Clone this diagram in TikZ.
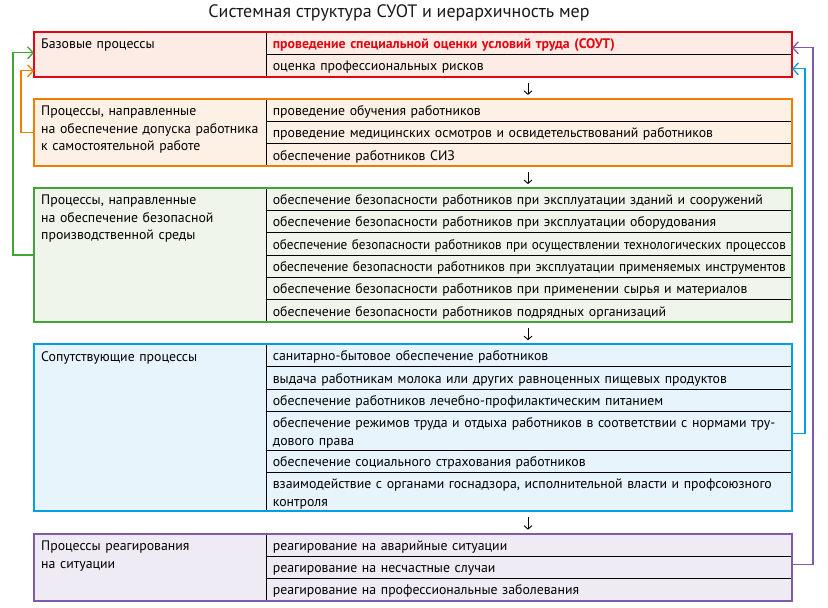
\documentclass[tikz,border=0pt]{standalone}
\usepackage{fontspec}
\usepackage{graphicx}
\setmainfont{PT Sans}
\usetikzlibrary{positioning}
\usetikzlibrary{arrows.meta}

\definecolor{soutred}{RGB}{227,6,19}
\definecolor{soutorange}{RGB}{239,125,0}
\definecolor{soutgreen}{RGB}{67,163,55}
\definecolor{soutblue}{RGB}{0,159,227}
\definecolor{soutpurple}{RGB}{125,91,166}
\definecolor{fillred}{RGB}{252,236,229}
\definecolor{fillorange}{RGB}{253,241,229}
\definecolor{fillgreen}{RGB}{239,245,234}
\definecolor{fillblue}{RGB}{232,244,252}
\definecolor{fillpurple}{RGB}{239,235,245}

% squeeze a too long line into the column
\newcommand{\fitline}[1]{\resizebox{513pt}{\height}{#1}}

\begin{document}
\begin{tikzpicture}[x=1pt, y=-1pt, font=\fontsize{13.8}{17.5}\selectfont]
    \tikzstyle{group}=[rectangle, minimum width=758pt, inner sep=0pt, outer sep=0pt]
    \tikzstyle{head}=[text width=224pt, align=left, inner xsep=7pt, inner ysep=0pt, anchor=base west]
    \tikzstyle{item}=[draw=black, line width=0.6pt, rectangle, minimum height=22.3pt,
      text width=513pt, text height=11.5pt, text depth=0.8pt,
      inner xsep=6.15pt, inner ysep=2pt, outer sep=0pt, align=left, anchor=north west]
    \tikzstyle{tall}=[minimum height=39pt, text depth=17.5pt]
    \tikzstyle{frame}=[line width=2pt]
    \tikzstyle{back}=[-{Straight Barb[length=5.5pt,width=12pt]}, line width=1.3pt]
    \tikzstyle{down}=[-{Straight Barb[length=3.5pt,width=8pt]}, line width=0.9pt]
    \useasboundingbox (0,0) rectangle (828,608);

    \node[anchor=base, font=\fontsize{18}{22}\selectfont, text=black!90] (title) at (399,17)
      {Системная структура СУОТ и иерархичность мер};

    % groups
    \node[group, fill=fillred, minimum height=44.6pt, anchor=north west] (base) at (34,32) {};
    \node[group, fill=fillorange, minimum height=66.9pt, below=22.3pt of base] (access) {};
    \node[group, fill=fillgreen, minimum height=133.8pt, below=22.3pt of access] (safety) {};
    \node[group, fill=fillblue, minimum height=167.2pt, below=22.3pt of safety] (accomp) {};
    \node[group, fill=fillpurple, minimum height=66.9pt, below=22.3pt of accomp] (react) {};

    \node[head] (baseT) at ([yshift=-16.5pt]base.north west) {Базовые процессы};
    \node[head] (accessT) at ([yshift=-16.8pt]access.north west)
      {Процессы, направленные\\на обеспечение допуска работника\\к самостоятельной работе};
    \node[head] (safetyT) at ([yshift=-16.8pt]safety.north west)
      {Процессы, направленные\\на обеспечение безопасной\\производственной среды};
    \node[head] (accompT) at ([yshift=-17pt]accomp.north west) {Сопутствующие процессы};
    \node[head] (reactT) at ([yshift=-16.8pt]react.north west)
      {Процессы реагирования\\на ситуации};

    % base
    \node[item, text=soutred, font=\fontsize{13.8}{17.5}\selectfont\bfseries] (base1)
      at ([xshift=232.7pt]base.north west) {проведение специальной оценки условий труда (СОУТ)};
    \node[item, below=0pt of base1] (base2) {оценка профессиональных рисков};

    % access
    \node[item] (access1) at ([xshift=232.7pt]access.north west) {проведение обучения работников};
    \node[item, below=0pt of access1] (access2) {проведение медицинских осмотров и освидетельствований работников};
    \node[item, below=0pt of access2] (access3) {обеспечение работников СИЗ};

    % safety
    \node[item] (safety1) at ([xshift=232.7pt]safety.north west)
      {обеспечение безопасности работников при эксплуатации зданий и сооружений};
    \node[item, below=0pt of safety1] (safety2) {обеспечение безопасности работников при эксплуатации оборудования};
    \node[item, below=0pt of safety2] (safety3)
      {\fitline{обеспечение безопасности работников при осуществлении технологических процессов}};
    \node[item, below=0pt of safety3] (safety4)
      {\fitline{обеспечение безопасности работников при эксплуатации применяемых инструментов}};
    \node[item, below=0pt of safety4] (safety5) {обеспечение безопасности работников при применении сырья и материалов};
    \node[item, below=0pt of safety5] (safety6) {обеспечение безопасности работников подрядных организаций};

    % accompanying
    \node[item] (accomp1) at ([xshift=232.7pt]accomp.north west) {санитарно-бытовое обеспечение работников};
    \node[item, below=0pt of accomp1] (accomp2) {выдача работникам молока или других равноценных пищевых продуктов};
    \node[item, below=0pt of accomp2] (accomp3) {обеспечение работников лечебно-профилактическим питанием};
    \node[item, tall, below=0pt of accomp3] (accomp4)
      {обеспечение режимов труда и отдыха работников в соответствии с нормами тру-\\дового права};
    \node[item, below=0pt of accomp4] (accomp5) {обеспечение социального страхования работников};
    \node[item, tall, below=0pt of accomp5] (accomp6)
      {взаимодействие с органами госнадзора, исполнительной власти и профсоюзного\\контроля};

    % reaction
    \node[item] (react1) at ([xshift=232.7pt]react.north west) {реагирование на аварийные ситуации};
    \node[item, below=0pt of react1] (react2) {реагирование на несчастные случаи};
    \node[item, below=0pt of react2] (react3) {реагирование на профессиональные заболевания};

    % frames
    \draw[frame, soutred] (base.north west) rectangle (base.south east);
    \draw[frame, soutorange] (access.north west) rectangle (access.south east);
    \draw[frame, soutgreen] (safety.north west) rectangle (safety.south east);
    \draw[frame, soutblue] (accomp.north west) rectangle (accomp.south east);
    \draw[frame, soutpurple] (react.north west) rectangle (react.south east);

    % hierarchy
    \draw[down] ([xshift=115pt,yshift=-6pt]base.south) -- ([xshift=115pt,yshift=4pt]access.north);
    \draw[down] ([xshift=115pt,yshift=-6pt]access.south) -- ([xshift=115pt,yshift=4pt]safety.north);
    \draw[down] ([xshift=115pt,yshift=-6pt]safety.south) -- ([xshift=115pt,yshift=4pt]accomp.north);
    \draw[down] ([xshift=115pt,yshift=-6pt]accomp.south) -- ([xshift=115pt,yshift=4pt]react.north);

    % feedback
    \draw[back, soutgreen] (safety.west) -- ++(-21,0) |- ([yshift=1.5pt]base.west);
    \draw[back, soutorange] (access.west) -- ++(-13,0) |- ([yshift=-16.5pt]base.west);
    \draw[back, soutpurple] ([yshift=2.5pt]react.east) -- ++(21,0) |- ([yshift=6.5pt]base.east);
    \draw[back, soutblue] ([yshift=-6pt]accomp.east) -- ++(13,0) |- ([yshift=-14.5pt]base.east);
\end{tikzpicture}
\end{document}
